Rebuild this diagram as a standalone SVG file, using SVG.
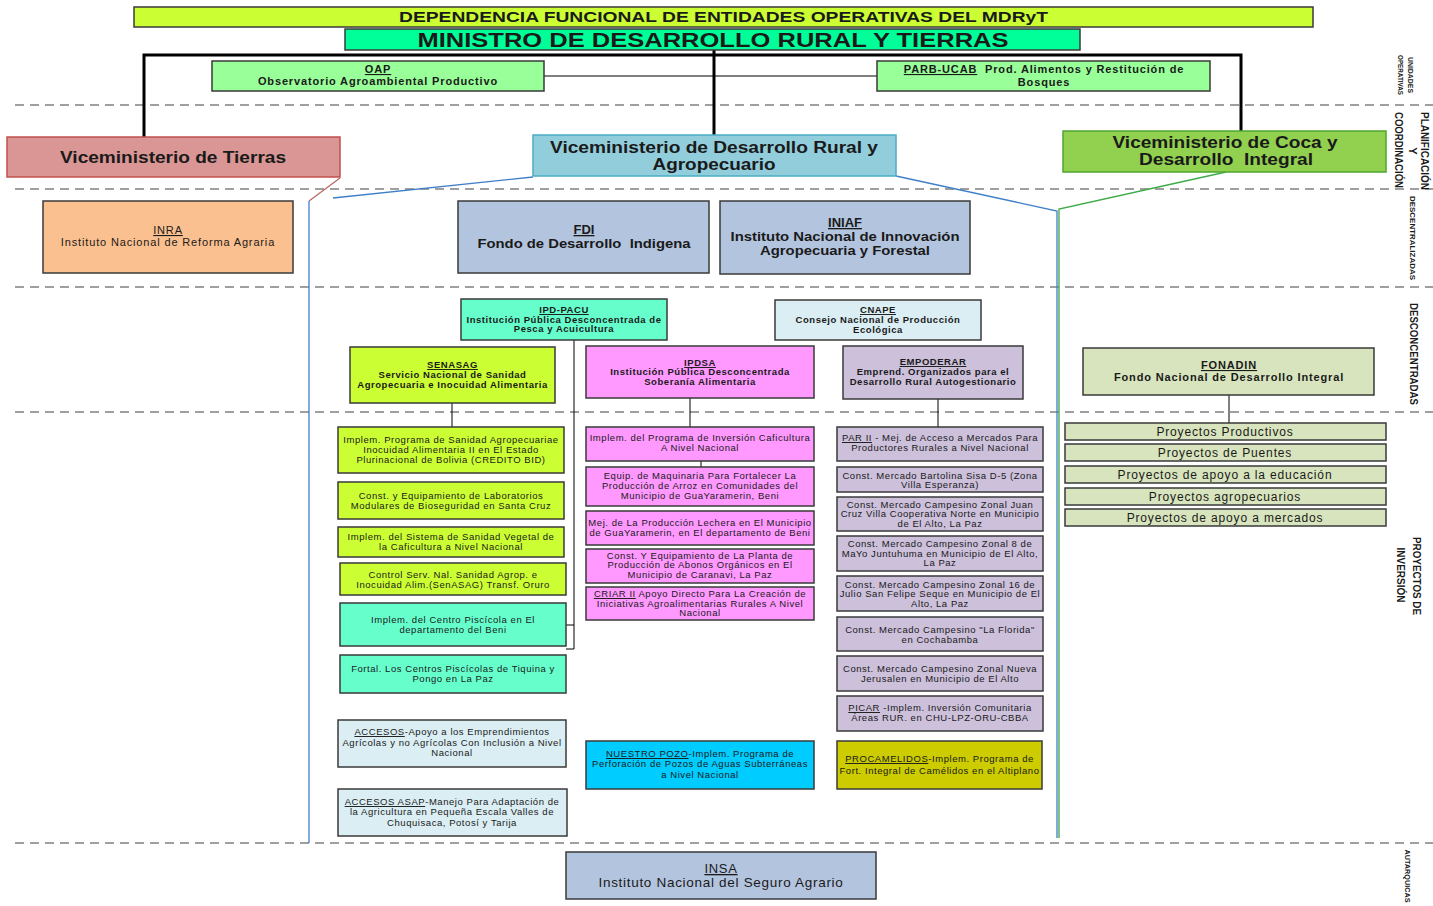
<svg xmlns="http://www.w3.org/2000/svg" width="1433" height="906" viewBox="0 0 1433 906">
<style>
text{font-family:"Liberation Sans",Arial,sans-serif;fill:#1a1a1a;text-anchor:middle}
.bx{stroke:#3a3a3a;stroke-width:1.5}
.b{font-weight:bold}
.s{font-size:9.5px;letter-spacing:0.55px}
.m{font-size:11px;letter-spacing:0.85px}
.p{font-size:12px;letter-spacing:0.85px}
.u{text-decoration:underline}
.dash{stroke:#808080;stroke-width:1.5;stroke-dasharray:9 6;fill:none}
.cn{stroke:#000;stroke-width:1;fill:none}
.side{font-weight:bold;text-anchor:middle}
</style>
<rect width="1433" height="906" fill="#fff"/>
<g id="bands">
<line class="dash" x1="15" y1="105" x2="1433" y2="105"/>
<line class="dash" x1="15" y1="189" x2="1433" y2="189"/>
<line class="dash" x1="15" y1="287" x2="1433" y2="287"/>
<line class="dash" x1="15" y1="412" x2="1433" y2="412"/>
<line class="dash" x1="15" y1="843" x2="1433" y2="843"/>
</g>
<g id="side-labels">
<text class="side" font-size="7" transform="translate(1408,75) rotate(90)" textLength="36" lengthAdjust="spacingAndGlyphs">UNIDADES</text>
<text class="side" font-size="7" transform="translate(1398,75) rotate(90)" textLength="40" lengthAdjust="spacingAndGlyphs">OPERATIVAS</text>
<text class="side" font-size="11" transform="translate(1421,151) rotate(90)" textLength="78" lengthAdjust="spacingAndGlyphs">PLANIFICACIÓN</text>
<text class="side" font-size="11" transform="translate(1409,151) rotate(90)">Y</text>
<text class="side" font-size="11" transform="translate(1395,150) rotate(90)" textLength="76" lengthAdjust="spacingAndGlyphs">COORDINACIÓN</text>
<text class="side" font-size="8" transform="translate(1410,238) rotate(90)" textLength="84" lengthAdjust="spacingAndGlyphs">DESCENTRALIZADAS</text>
<text class="side" font-size="11" transform="translate(1410,354) rotate(90)" textLength="102" lengthAdjust="spacingAndGlyphs">DESCONCENTRADAS</text>
<text class="side" font-size="10.5" transform="translate(1413,576) rotate(90)" textLength="78" lengthAdjust="spacingAndGlyphs">PROYECTOS DE</text>
<text class="side" font-size="10.5" transform="translate(1397,575) rotate(90)" textLength="55" lengthAdjust="spacingAndGlyphs">INVERSIÓN</text>
<text class="side" font-size="7.5" transform="translate(1405,876) rotate(90)" textLength="53" lengthAdjust="spacingAndGlyphs">AUTARQUICAS</text>
</g>
<g id="connectors">
<path d="M144,137 V55 H1241 V131" stroke="#000" stroke-width="3" fill="none"/>
<line x1="714" y1="50" x2="714" y2="135" stroke="#000" stroke-width="3"/>
<line class="cn" x1="544" y1="76" x2="877" y2="76"/>
<path d="M340,178 L309,201" stroke="#b86a66" stroke-width="1.3" fill="none"/>
<path d="M533,177 L333,198" stroke="#3f7fc8" stroke-width="1.3" fill="none"/>
<path d="M309,201 V843" stroke="#3f7fc8" stroke-width="1.3" fill="none"/>
<path d="M896,176 L1057,211 V838" stroke="#3f7fc8" stroke-width="1.3" fill="none"/>
<path d="M1226,172 L1059,209 V838" stroke="#3caa46" stroke-width="1.3" fill="none"/>
<line class="cn" x1="452" y1="403" x2="452" y2="427"/>
<path class="cn" d="M574,340 V649 H566 M566,625 H574"/>
<line class="cn" x1="690" y1="398" x2="690" y2="427"/>
<line class="cn" x1="701" y1="461" x2="701" y2="467"/>
<line class="cn" x1="938" y1="399" x2="938" y2="427"/>
<line class="cn" x1="1229" y1="395" x2="1229" y2="423"/>
</g>
<g id="banner">
<rect class="bx" x="134" y="7" width="1179" height="20" fill="#ccff33"/>
<text class="b" x="723.5" y="22" font-size="14.5" textLength="649" lengthAdjust="spacingAndGlyphs">DEPENDENCIA FUNCIONAL DE ENTIDADES OPERATIVAS DEL MDRyT</text>
</g>
<g id="ministro">
<rect class="bx" x="345" y="29" width="735" height="21" fill="#00ff99"/>
<text class="b" x="713" y="47" font-size="20" textLength="591" lengthAdjust="spacingAndGlyphs">MINISTRO DE DESARROLLO RURAL Y TIERRAS</text>
</g>
<g id="oap">
<rect class="bx" x="212" y="61" width="332" height="30" fill="#99ff99"/>
<text class="b m" x="378" y="73" letter-spacing="0.9"><tspan class="u">OAP</tspan></text>
<text class="b m" x="378" y="85" letter-spacing="0.9">Observatorio Agroambiental Productivo</text>
</g>
<g id="parb">
<rect class="bx" x="877" y="61" width="333" height="30" fill="#99ff99"/>
<text class="b m" x="1044" y="73" letter-spacing="1" xml:space="preserve"><tspan class="u">PARB-UCAB</tspan>  Prod. Alimentos y Restitución de</text>
<text class="b m" x="1044" y="86" letter-spacing="1">Bosques</text>
</g>
<g id="vm-tierras">
<rect x="7" y="137" width="333" height="40" fill="#d99694" stroke="#c0504d" stroke-width="1.5"/>
<text class="b" x="173" y="163" font-size="16" textLength="226" lengthAdjust="spacingAndGlyphs">Viceministerio de Tierras</text>
</g>
<g id="vm-rural">
<rect x="533" y="135" width="363" height="41" fill="#92cddc" stroke="#4bacc6" stroke-width="1.5"/>
<text class="b" x="714" y="153" font-size="16" textLength="328" lengthAdjust="spacingAndGlyphs">Viceministerio de Desarrollo Rural y</text>
<text class="b" x="714" y="170" font-size="16" textLength="123" lengthAdjust="spacingAndGlyphs">Agropecuario</text>
</g>
<g id="vm-coca">
<rect x="1063" y="131" width="323" height="41" fill="#92d050" stroke="#4ea72e" stroke-width="1.5"/>
<text class="b" x="1225" y="148" font-size="16" textLength="225" lengthAdjust="spacingAndGlyphs">Viceministerio de Coca y</text>
<text class="b" x="1226" y="165" font-size="16" textLength="174" lengthAdjust="spacingAndGlyphs" xml:space="preserve">Desarrollo  Integral</text>
</g>
<g id="inra">
<rect class="bx" x="43" y="201" width="250" height="72" fill="#fac090"/>
<text class="m" x="168" y="234"><tspan class="u">INRA</tspan></text>
<text class="m" x="168" y="246">Instituto Nacional de Reforma Agraria</text>
</g>
<g id="fdi">
<rect class="bx" x="458" y="201" width="251" height="72" fill="#b3c4de"/>
<text class="b" x="584" y="234" font-size="13"><tspan class="u">FDI</tspan></text>
<text class="b" x="584" y="248" font-size="13" textLength="213" lengthAdjust="spacingAndGlyphs" xml:space="preserve">Fondo de Desarrollo  Indigena</text>
</g>
<g id="iniaf">
<rect class="bx" x="720" y="201" width="250" height="73" fill="#b3c4de"/>
<text class="b" x="845" y="227" font-size="13"><tspan class="u">INIAF</tspan></text>
<text class="b" x="845" y="241" font-size="13" textLength="229" lengthAdjust="spacingAndGlyphs">Instituto Nacional de Innovación</text>
<text class="b" x="845" y="255" font-size="13" textLength="170" lengthAdjust="spacingAndGlyphs">Agropecuaria y Forestal</text>
</g>
<g id="ipd-pacu">
<rect class="bx" x="461" y="299" width="206" height="41" fill="#66ffcc"/>
<text class="b s" x="564" y="313"><tspan class="u">IPD-PACU</tspan></text>
<text class="b s" x="564" y="323">Institución Pública Desconcentrada de</text>
<text class="b s" x="564" y="332">Pesca y Acuicultura</text>
</g>
<g id="cnape">
<rect class="bx" x="775" y="300" width="206" height="40" fill="#daeef3"/>
<text class="b s" x="878" y="313"><tspan class="u">CNAPE</tspan></text>
<text class="b s" x="878" y="323">Consejo Nacional de Producción</text>
<text class="b s" x="878" y="333">Ecológica</text>
</g>
<g id="senasag">
<rect class="bx" x="350" y="347" width="205" height="56" fill="#ccff33"/>
<text class="b s" x="452.5" y="368"><tspan class="u">SENASAG</tspan></text>
<text class="b s" x="452.5" y="378">Servicio Nacional de Sanidad</text>
<text class="b s" x="452.5" y="388">Agropecuaria e Inocuidad Alimentaria</text>
</g>
<g id="ipdsa">
<rect class="bx" x="586" y="346" width="228" height="52" fill="#ff99ff"/>
<text class="b s" x="700" y="366"><tspan class="u">IPDSA</tspan></text>
<text class="b s" x="700" y="375">Institución Pública Desconcentrada</text>
<text class="b s" x="700" y="385">Soberanía Alimentaria</text>
</g>
<g id="empoderar">
<rect class="bx" x="843" y="346" width="180" height="53" fill="#ccc0da"/>
<text class="b s" x="933" y="365"><tspan class="u">EMPODERAR</tspan></text>
<text class="b s" x="933" y="375">Emprend. Organizados para el</text>
<text class="b s" x="933" y="385">Desarrollo Rural Autogestionario</text>
</g>
<g id="fonadin">
<rect class="bx" x="1083" y="348" width="291" height="47" fill="#d7e4bd"/>
<text class="b m" x="1229" y="369"><tspan class="u">FONADIN</tspan></text>
<text class="b m" x="1229" y="381">Fondo Nacional de Desarrollo Integral</text>
</g>
<g id="senasag-p1">
<rect class="bx" x="338" y="427" width="226" height="46" fill="#ccff33"/>
<text class="s" x="451" y="443">Implem. Programa de Sanidad Agropecuariae</text>
<text class="s" x="451" y="453">Inocuidad Alimentaria II en El Estado</text>
<text class="s" x="451" y="463">Plurinacional de Bolivia (CREDITO BID)</text>
</g>
<g id="senasag-p2">
<rect class="bx" x="338" y="482" width="226" height="37" fill="#ccff33"/>
<text class="s" x="451" y="499">Const. y Equipamiento de Laboratorios</text>
<text class="s" x="451" y="509">Modulares de Bioseguridad en Santa Cruz</text>
</g>
<g id="senasag-p3">
<rect class="bx" x="338" y="527" width="226" height="30" fill="#ccff33"/>
<text class="s" x="451" y="540">Implem. del Sistema de Sanidad Vegetal de</text>
<text class="s" x="451" y="550">la Caficultura a Nivel Nacional</text>
</g>
<g id="senasag-p4">
<rect class="bx" x="340" y="563" width="226" height="32" fill="#ccff33"/>
<text class="s" x="453" y="578">Control Serv. Nal. Sanidad Agrop. e</text>
<text class="s" x="453" y="588">Inocuidad Alim.(SenASAG) Transf. Oruro</text>
</g>
<g id="pacu-p1">
<rect class="bx" x="340" y="603" width="226" height="43" fill="#66ffcc"/>
<text class="s" x="453" y="623">Implem. del Centro Piscícola en El</text>
<text class="s" x="453" y="633">departamento del Beni</text>
</g>
<g id="pacu-p2">
<rect class="bx" x="340" y="655" width="226" height="38" fill="#66ffcc"/>
<text class="s" x="453" y="672">Fortal. Los Centros Piscícolas de Tiquina y</text>
<text class="s" x="453" y="682">Pongo en La Paz</text>
</g>
<g id="ipdsa-p1">
<rect class="bx" x="586" y="427" width="228" height="34" fill="#ff99ff"/>
<text class="s" x="700" y="441">Implem. del Programa de Inversión Caficultura</text>
<text class="s" x="700" y="451">A Nivel Nacional</text>
</g>
<g id="ipdsa-p2">
<rect class="bx" x="586" y="467" width="228" height="39" fill="#ff99ff"/>
<text class="s" x="700" y="479">Equip. de Maquinaria Para Fortalecer La</text>
<text class="s" x="700" y="489">Producción de Arroz en Comunidades del</text>
<text class="s" x="700" y="499">Municipio de GuaYaramerin, Beni</text>
</g>
<g id="ipdsa-p3">
<rect class="bx" x="586" y="511" width="228" height="34" fill="#ff99ff"/>
<text class="s" x="700" y="526">Mej. de La Producción Lechera en El Municipio</text>
<text class="s" x="700" y="536">de GuaYaramerin, en El departamento de Beni</text>
</g>
<g id="ipdsa-p4">
<rect class="bx" x="586" y="549" width="228" height="34" fill="#ff99ff"/>
<text class="s" x="700" y="559">Const. Y Equipamiento de La Planta de</text>
<text class="s" x="700" y="568">Producción de Abonos Orgánicos en El</text>
<text class="s" x="700" y="578">Municipio de Caranavi, La Paz</text>
</g>
<g id="ipdsa-p5">
<rect class="bx" x="586" y="587" width="228" height="33" fill="#ff99ff"/>
<text class="s" x="700" y="597"><tspan class="u">CRIAR II</tspan> Apoyo Directo Para La Creación de</text>
<text class="s" x="700" y="607">Iniciativas Agroalimentarias Rurales A Nivel</text>
<text class="s" x="700" y="616">Nacional</text>
</g>
<g id="emp-p1">
<rect class="bx" x="837" y="427" width="206" height="34" fill="#ccc0da"/>
<text class="s" x="940" y="441"><tspan class="u">PAR II</tspan> - Mej. de Acceso a Mercados Para</text>
<text class="s" x="940" y="451">Productores Rurales a Nivel Nacional</text>
</g>
<g id="emp-p2">
<rect class="bx" x="837" y="467" width="206" height="25" fill="#ccc0da"/>
<text class="s" x="940" y="479">Const. Mercado Bartolina Sisa D-5 (Zona</text>
<text class="s" x="940" y="488">Villa Esperanza)</text>
</g>
<g id="emp-p3">
<rect class="bx" x="837" y="497" width="206" height="34" fill="#ccc0da"/>
<text class="s" x="940" y="508">Const. Mercado Campesino Zonal Juan</text>
<text class="s" x="940" y="517">Cruz Villa Cooperativa Norte en Municipio</text>
<text class="s" x="940" y="527">de El Alto, La Paz</text>
</g>
<g id="emp-p4">
<rect class="bx" x="837" y="536" width="206" height="35" fill="#ccc0da"/>
<text class="s" x="940" y="547">Const. Mercado Campesino Zonal 8 de</text>
<text class="s" x="940" y="557">MaYo Juntuhuma en Municipio de El Alto,</text>
<text class="s" x="940" y="566">La Paz</text>
</g>
<g id="emp-p5">
<rect class="bx" x="837" y="576" width="206" height="35" fill="#ccc0da"/>
<text class="s" x="940" y="588">Const. Mercado Campesino Zonal 16 de</text>
<text class="s" x="940" y="597">Julio San Felipe Seque en Municipio de El</text>
<text class="s" x="940" y="607">Alto, La Paz</text>
</g>
<g id="emp-p6">
<rect class="bx" x="837" y="617" width="206" height="34" fill="#ccc0da"/>
<text class="s" x="940" y="633">Const. Mercado Campesino "La Florida"</text>
<text class="s" x="940" y="643">en Cochabamba</text>
</g>
<g id="emp-p7">
<rect class="bx" x="837" y="656" width="206" height="35" fill="#ccc0da"/>
<text class="s" x="940" y="672">Const. Mercado Campesino Zonal Nueva</text>
<text class="s" x="940" y="682">Jerusalen en Municipio de El Alto</text>
</g>
<g id="emp-p8">
<rect class="bx" x="837" y="696" width="206" height="35" fill="#ccc0da"/>
<text class="s" x="940" y="711"><tspan class="u">PICAR</tspan> -Implem. Inversión Comunitaria</text>
<text class="s" x="940" y="721">Áreas RUR. en CHU-LPZ-ORU-CBBA</text>
</g>
<g id="accesos">
<rect class="bx" x="338" y="720" width="228" height="47" fill="#daeef3"/>
<text class="s" x="452" y="735"><tspan class="u">ACCESOS</tspan>-Apoyo a los Emprendimientos</text>
<text class="s" x="452" y="746">Agrícolas y no Agrícolas Con Inclusión a Nivel</text>
<text class="s" x="452" y="756">Nacional</text>
</g>
<g id="accesos-asap">
<rect class="bx" x="338" y="789" width="229" height="47" fill="#daeef3"/>
<text class="s" x="452" y="805"><tspan class="u">ACCESOS ASAP</tspan>-Manejo Para Adaptación de</text>
<text class="s" x="452" y="815">la Agricultura en Pequeña Escala Valles de</text>
<text class="s" x="452" y="826">Chuquisaca, Potosí y Tarija</text>
</g>
<g id="nuestro-pozo">
<rect class="bx" x="586" y="741" width="228" height="48" fill="#00ccff"/>
<text class="s" x="700" y="757"><tspan class="u">NUESTRO POZO</tspan>-Implem. Programa de</text>
<text class="s" x="700" y="767">Perforación de Pozos de Aguas Subterráneas</text>
<text class="s" x="700" y="778">a Nivel Nacional</text>
</g>
<g id="procamelidos">
<rect class="bx" x="837" y="741" width="205" height="48" fill="#cccc00"/>
<text class="s" x="939.5" y="762"><tspan class="u">PROCAMELIDOS</tspan>-Implem. Programa de</text>
<text class="s" x="939.5" y="774">Fort. Integral de Camélidos en el Altiplano</text>
</g>
<g id="insa">
<rect class="bx" x="566" y="852" width="310" height="47" fill="#b3c4de"/>
<text x="721" y="873" font-size="13" letter-spacing="0.7"><tspan class="u">INSA</tspan></text>
<text x="721" y="887" font-size="13.5" letter-spacing="0.7">Instituto Nacional del Seguro Agrario</text>
</g>
<g id="fonadin-p1">
<rect class="bx" x="1065" y="423" width="321" height="17" fill="#d7e4bd"/>
<text class="p" x="1225" y="436">Proyectos Productivos</text>
</g>
<g id="fonadin-p2">
<rect class="bx" x="1065" y="444" width="321" height="17" fill="#d7e4bd"/>
<text class="p" x="1225" y="457">Proyectos de Puentes</text>
</g>
<g id="fonadin-p3">
<rect class="bx" x="1065" y="466" width="321" height="17" fill="#d7e4bd"/>
<text class="p" x="1225" y="479">Proyectos de apoyo a la educación</text>
</g>
<g id="fonadin-p4">
<rect class="bx" x="1065" y="488" width="321" height="17" fill="#d7e4bd"/>
<text class="p" x="1225" y="501">Proyectos agropecuarios</text>
</g>
<g id="fonadin-p5">
<rect class="bx" x="1065" y="509" width="321" height="17" fill="#d7e4bd"/>
<text class="p" x="1225" y="522">Proyectos de apoyo a mercados</text>
</g>
</svg>
